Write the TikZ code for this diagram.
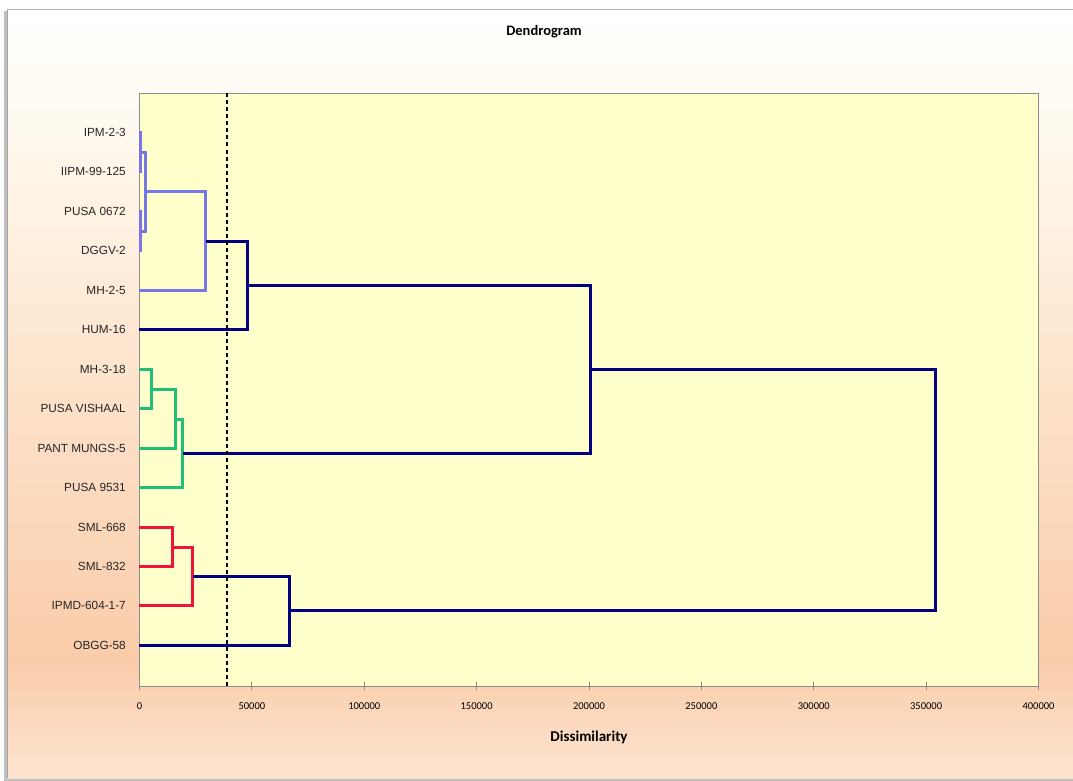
\documentclass[tikz,border=0pt]{standalone}
\usepackage{fontspec}
\setmainfont{Carlito}
\newfontfamily\arialf{Liberation Sans}
\usetikzlibrary{calc}
\definecolor{clblue}{RGB}{118,118,228}
\definecolor{cnavy}{RGB}{0,0,128}
\definecolor{cgreen}{RGB}{32,190,120}
\definecolor{cred}{RGB}{238,20,60}
\definecolor{plotbg}{RGB}{255,255,204}
\definecolor{axisgray}{RGB}{140,140,140}
\pgfdeclareverticalshading{bgshade}{100bp}{%
  color(0bp)=(rgb,255:red,253;green,228;blue,208);
  color(25bp)=(rgb,255:red,253;green,228;blue,208);
  color(32.7bp)=(rgb,255:red,250;green,204;blue,170);
  color(51.5bp)=(rgb,255:red,253;green,228;blue,205);
  color(67.8bp)=(rgb,255:red,255;green,250;blue,240);
  color(75bp)=(rgb,255:red,255;green,255;blue,255);
  color(100bp)=(rgb,255:red,255;green,255;blue,255)}
\begin{document}
\begin{tikzpicture}[x=1pt,y=-1pt,
  link/.style={line width=3pt, line join=miter},
  lblue/.style={link, draw=clblue},
  lnavy/.style={link, draw=cnavy},
  lgreen/.style={link, draw=cgreen},
  lred/.style={link, draw=cred},
  leaf/.style={anchor=east, inner sep=0pt, font=\arialf\fontsize{11.8}{13}\selectfont, text=black!85},
  tick/.style={inner sep=0pt, font=\fontsize{10.5}{12}\selectfont, text=black},
  cut/.style={draw=black, line width=2pt, dash pattern=on 4pt off 3pt}]
\useasboundingbox (0,0) rectangle (1073,781);
\fill[white] (0,0) rectangle (1073,781);
% chart area with shadow
\fill[black!25] (4,11) rectangle (1080,781);
\shade[shading=bgshade] (7,9) rectangle (1080,778);
\draw[black!30, line width=1pt] (7,9.5) -- (1080,9.5);
\draw[black!35, line width=1pt] (7.5,9) -- (7.5,778);
% plot area
\fill[plotbg] (139.5,93.5) rectangle (1038.5,686.5);
\draw[axisgray, line width=1pt] (139.5,686.5) -- (139.5,93.5) -- (1038.5,93.5) -- (1038.5,686.5) -- cycle;
% ticks and tick labels
\foreach \lab [count=\i] in {0,50000,100000,150000,200000,250000,300000,350000,400000}{
  \pgfmathsetmacro{\xx}{139.5+(\i-1)*112.375}
  \draw[axisgray, line width=1pt] (\xx,682) -- (\xx,690);
  \node[tick] (tk\i) at (\xx,706) {\lab};
}
% titles
\node[font=\bfseries\fontsize{14.5}{16}\selectfont, inner sep=0pt] (title) at (544,32) {Dendrogram};
\node[font=\bfseries\fontsize{15}{17}\selectfont, inner sep=0pt] (xtitle) at (589,737) {Dissimilarity};
% leaves
\foreach \name/\lab/\yy in {
  a/IPM-2-3/132.5, b/IIPM-99-125/171.5, c/PUSA 0672/211.5, d/DGGV-2/250.5,
  e/MH-2-5/290.5, f/HUM-16/329.5, g/MH-3-18/369.5, h/PUSA VISHAAL/408.5,
  k/PANT MUNGS-5/448.5, l/PUSA 9531/487.5, m/SML-668/527.5,
  n/SML-832/566.5, o/IPMD-604-1-7/605.5, p/OBGG-58/645.5}{
  \node[leaf] (t\name) at (126,\yy) {\lab};
  \coordinate (L\name) at (139,\yy);
}
% merge points
\coordinate (P1) at (140.5,152.5);
\coordinate (P2) at (140.5,231.5);
\coordinate (P3) at (145.5,191.5);
\coordinate (P4) at (205.5,241.5);
\coordinate (P5) at (247.5,285.5);
\coordinate (G1) at (151.5,389.5);
\coordinate (G2) at (175.5,419.5);
\coordinate (G3) at (182.5,453.5);
\coordinate (P6) at (590.5,369.5);
\coordinate (R1) at (172.5,547.5);
\coordinate (R2) at (192.5,576.5);
\coordinate (R3) at (289.5,610.5);
\coordinate (RT) at (935.5,490.5);
% links
\draw[lblue] (La) -| (P1) |- (Lb);
\draw[lblue] (Lc) -| (P2) |- (Ld);
\draw[lblue] (P1) -| (P3) |- (P2);
\draw[lblue] (P3) -| (P4) |- (Le);
\draw[lnavy] (P4) -| (P5) |- (Lf);
\draw[lgreen] (Lg) -| (G1) |- (Lh);
\draw[lgreen] (G1) -| (G2) |- (Lk);
\draw[lgreen] (G2) -| (G3) |- (Ll);
\draw[lnavy] (P5) -| (P6) |- (G3);
\draw[lred] (Lm) -| (R1) |- (Ln);
\draw[lred] (R1) -| (R2) |- (Lo);
\draw[lnavy] (R2) -| (R3) |- (Lp);
\draw[lnavy] (P6) -| (RT) |- (R3);
% cut line
\coordinate (ctop) at (227,93.5);
\coordinate (cbot) at (227,686.5);
\draw[cut] (ctop) -- (cbot);
\end{tikzpicture}
\end{document}
